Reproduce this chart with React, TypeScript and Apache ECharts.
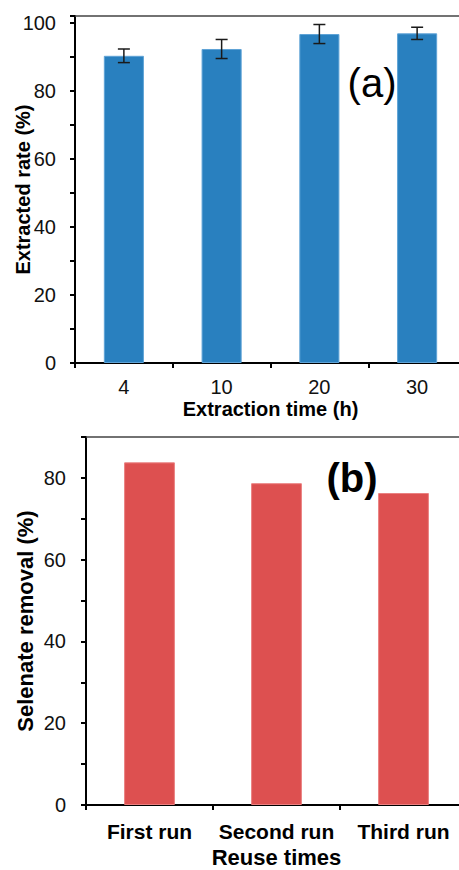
import React, { useEffect, useRef } from "react";
import * as echarts from "echarts";

const extractCategories = ["4", "10", "20", "30"];
const extractValues = [90.3, 92.3, 96.7, 96.9];
const extractErrors = [2.0, 2.8, 2.8, 1.8];

const reuseCategories = ["First run", "Second run", "Third run"];
const reuseValues = [83.8, 78.7, 76.3];

const FONT = "'Liberation Sans', Arial, sans-serif";

export default function App() {
  const ref = useRef<HTMLDivElement>(null);
  useEffect(() => {
    if (!ref.current) return;
    const chart = echarts.init(ref.current, null, { renderer: "svg" });
    const errData = extractValues.map((v, i) => [i, v - extractErrors[i], v + extractErrors[i]]);
    const axisLineStyle = { color: "#000", width: 2 };
    const tickLabelA = {
      fontFamily: FONT,
      fontSize: 20,
      color: "#111",
    };
    const option: any = {
      animation: false,
      backgroundColor: "#fff",
      grid: [
        { left: 75, right: -7, top: 16, bottom: 507, containLabel: false, outerBoundsMode: "none" },
        { left: 86, right: -8, top: 437, bottom: 65, containLabel: false, outerBoundsMode: "none" },
      ],
      xAxis: [
        {
          type: "category",
          gridIndex: 0,
          data: extractCategories,
          position: "bottom",
          axisLine: { lineStyle: axisLineStyle },
          axisTick: { show: true, length: 5, inside: false, lineStyle: { color: "#000", width: 2 } },
          axisLabel: { ...tickLabelA, margin: 14, interval: 0 },
          name: "Extraction time (h)",
          nameLocation: "middle",
          nameGap: 36,
          nameMoveOverlap: false,
          nameTextStyle: { fontFamily: FONT, fontSize: 20, fontWeight: "bold", color: "#000" },
        },
        {
          type: "category",
          gridIndex: 0,
          data: extractCategories,
          position: "top",
          axisLine: { lineStyle: { color: "#444", width: 1.5 } },
          axisTick: { show: false },
          axisLabel: { show: false },
        },
        {
          type: "category",
          gridIndex: 1,
          data: reuseCategories,
          position: "bottom",
          axisLine: { lineStyle: axisLineStyle },
          axisTick: { show: true, length: 5, lineStyle: { color: "#000", width: 2 } },
          axisLabel: {
            fontFamily: FONT,
            fontSize: 21,
            fontWeight: "bold",
            color: "#000",
            margin: 16,
            interval: 0,
            hideOverlap: false,
          },
          name: "Reuse times",
          nameLocation: "middle",
          nameGap: 41,
          nameMoveOverlap: false,
          nameTextStyle: { fontFamily: FONT, fontSize: 22, lineHeight: 22, fontWeight: "bold", color: "#000" },
        },
        {
          type: "category",
          gridIndex: 1,
          data: reuseCategories,
          position: "top",
          axisLine: { lineStyle: { color: "#444", width: 1.5 } },
          axisTick: { show: false },
          axisLabel: { show: false },
        },
      ],
      yAxis: [
        {
          type: "value",
          gridIndex: 0,
          min: 0,
          max: 102,
          interval: 10,
          axisLine: { show: true, lineStyle: axisLineStyle },
          axisTick: { show: true, length: 5, lineStyle: { color: "#000", width: 2 } },
          splitLine: { show: false },
          axisLabel: {
            ...tickLabelA,
            margin: 19,
            formatter: (v: number) => (v % 20 === 0 && v <= 100 ? String(v) : ""),
          },
          name: "Extracted rate (%)",
          nameLocation: "middle",
          nameGap: 42,
          nameMoveOverlap: false,
          nameTextStyle: { fontFamily: FONT, fontSize: 20, fontWeight: "bold", color: "#000" },
        },
        {
          type: "value",
          gridIndex: 1,
          min: 0,
          max: 90,
          interval: 10,
          axisLine: { show: true, lineStyle: axisLineStyle },
          axisTick: { show: true, length: 5, lineStyle: { color: "#000", width: 2 } },
          splitLine: { show: false },
          axisLabel: {
            ...tickLabelA,
            margin: 20,
            formatter: (v: number) => (v % 20 === 0 && v <= 80 ? String(v) : ""),
          },
          name: "Selenate removal (%)",
          nameLocation: "middle",
          nameGap: 50,
          nameMoveOverlap: false,
          nameTextStyle: { fontFamily: FONT, fontSize: 22, fontWeight: "bold", color: "#000" },
        },
      ],
      series: [
        {
          type: "bar",
          xAxisIndex: 0,
          yAxisIndex: 0,
          data: extractValues,
          barWidth: "41%",
          itemStyle: { color: "#2980bf", borderColor: "#5fa3d6", borderWidth: 1 },
        },
        {
          type: "custom",
          xAxisIndex: 0,
          yAxisIndex: 0,
          data: errData,
          z: 10,
          renderItem: (params: any, api: any) => {
            const lo = api.coord([api.value(0), api.value(1)]);
            const hi = api.coord([api.value(0), api.value(2)]);
            const hw = 6;
            const st = { stroke: "#1a1a1a", lineWidth: 1.5 };
            return {
              type: "group",
              children: [
                { type: "line", shape: { x1: hi[0], y1: hi[1], x2: lo[0], y2: lo[1] }, style: st },
                { type: "line", shape: { x1: hi[0] - hw, y1: hi[1], x2: hi[0] + hw, y2: hi[1] }, style: st },
                { type: "line", shape: { x1: lo[0] - hw, y1: lo[1], x2: lo[0] + hw, y2: lo[1] }, style: st },
              ],
            };
          },
        },
        {
          type: "bar",
          xAxisIndex: 2,
          yAxisIndex: 1,
          data: reuseValues,
          barWidth: "40%",
          itemStyle: { color: "#dd5050", borderColor: "#ea8080", borderWidth: 1 },
        },
      ],
      graphic: [
        {
          type: "text",
          x: 372,
          y: 83,
          style: {
            text: "(a)",
            fontFamily: FONT,
            fontSize: 40,
            fill: "#000",
            align: "center",
            verticalAlign: "middle",
          },
        },
        {
          type: "text",
          x: 352,
          y: 478,
          style: {
            text: "(b)",
            fontFamily: FONT,
            fontSize: 40,
            fontWeight: "bold",
            fill: "#000",
            align: "center",
            verticalAlign: "middle",
          },
        },
      ],
    };
    chart.setOption(option);
    return () => chart.dispose();
  }, []);
  return (
    <div
      ref={ref}
      style={{ position: "absolute", left: 0, top: 0, width: 459, height: 870, background: "#fff" }}
    />
  );
}
